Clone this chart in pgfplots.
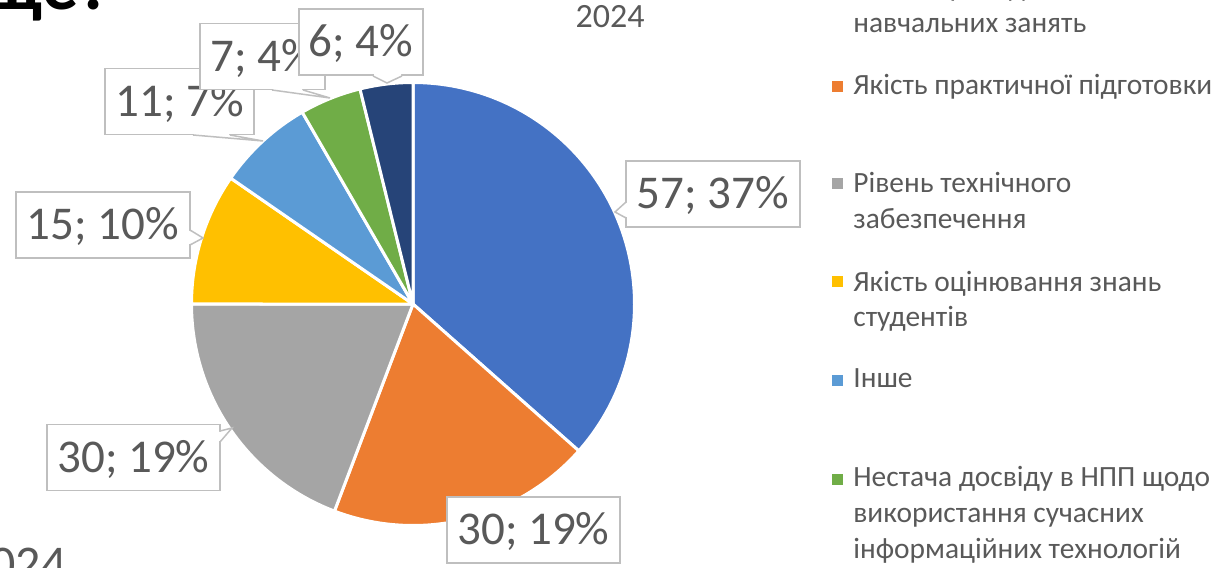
\documentclass[border=0pt]{standalone}
\usepackage{pgfplots}
\pgfplotsset{compat=1.18}
\usepackage{pgfplotstable}
\usepackage{fontspec}
\setmainfont{Carlito}
\definecolor{c1}{HTML}{4472C4}
\definecolor{c2}{HTML}{ED7D31}
\definecolor{c3}{HTML}{A5A5A5}
\definecolor{c4}{HTML}{FFC000}
\definecolor{c5}{HTML}{5B9BD5}
\definecolor{c6}{HTML}{70AD47}
\definecolor{c7}{HTML}{264478}
\definecolor{txt}{HTML}{595959}
\definecolor{bord}{HTML}{BFBFBF}

\pgfplotstableread{
value col
57 c1
30 c2
30 c3
15 c4
11 c5
7 c6
6 c7
}\piedata

\begin{document}
\begin{tikzpicture}
\useasboundingbox (0,0) rectangle (607pt,283.5pt);
\clip (0,0) rectangle (607pt,283.5pt);
\begin{axis}[hide axis, scale only axis, width=607pt, height=283.5pt,
  xmin=0, xmax=1214, ymin=0, ymax=567, y dir=reverse,
  at={(0,0)}, anchor=south west, clip=false]
\pgfplotstablegetrowsof{\piedata}
\pgfmathtruncatemacro{\nlast}{\pgfplotsretval-1}
\def\tot{0}
\pgfplotsforeachungrouped \i in {0,...,\nlast}{%
  \pgfplotstablegetelem{\i}{value}\of\piedata
  \pgfmathsetmacro{\tot}{\tot+\pgfplotsretval}}
\def\cum{0}
\pgfplotsforeachungrouped \i in {0,...,\nlast}{%
  \pgfplotstablegetelem{\i}{value}\of\piedata \let\sliceval\pgfplotsretval
  \pgfplotstablegetelem{\i}{col}\of\piedata \let\slicecol\pgfplotsretval
  \pgfmathsetmacro{\angA}{90-(\cum/\tot)*360}
  \pgfmathsetmacro{\cum}{\cum+\sliceval}
  \pgfmathsetmacro{\angB}{90-(\cum/\tot)*360}
  \edef\temp{\noexpand\addplot[fill=\slicecol, draw=white, line width=1.5pt, line join=round, domain=\angB:\angA, samples=90, forget plot] ({413+221.5*cos(x)},{304-221.5*sin(x)}) -- (axis cs:413,304) -- cycle;}
  \temp
}
\end{axis}

\begin{scope}[x=0.5pt, y=-0.5pt, shift={(0,283.5pt)},
  lab/.style={draw=bord, line width=0.75pt, fill=white, text=txt,
    font=\fontsize{23.5}{28}\selectfont, text height=14.8pt, text depth=0pt,
    minimum height=33pt, inner xsep=4pt, anchor=center},
  leg/.style={anchor=base west, text=txt, font=\fontsize{14.7}{17}\selectfont, inner sep=0pt},
  pt/.style={draw=bord, line width=0.75pt, line join=miter}]

% title fragments
\node[anchor=base east, font=\fontsize{36}{42}\selectfont\bfseries, text=black, inner sep=0pt] at (112,10) {ще?};
\node[anchor=base, font=\fontsize{17}{20}\selectfont, text=txt, inner sep=0pt] at (610,28) {2024};
\node[anchor=base east, font=\fontsize{25}{30}\selectfont, text=txt, inner sep=0pt] at (67,580) {2024};

% data labels (callouts)
\node[lab, minimum width=87pt] at (713,194) {57; 37\%};
\fill[white] (628,203) -- (626,203) -- (615,212) -- (626,217) -- (628,217) -- cycle;
\draw[pt] (626,202) -- (615,212) -- (626,218);

\node[lab, minimum width=86.5pt] at (533.5,530) {30; 19\%};

\node[lab, minimum width=86.5pt] at (133.5,457.5) {30; 19\%};
\fill[white] (218,432) -- (220,432) -- (232,428) -- (220,441) -- (218,441) -- cycle;
\draw[pt] (220,431) -- (232,428) -- (220,442);

\node[lab, minimum width=87pt] at (103,225) {15; 10\%};
\fill[white] (188,231) -- (190,231) -- (203,238) -- (190,244) -- (188,244) -- cycle;
\draw[pt] (190,230) -- (203,238) -- (190,245);

\node[lab, minimum width=74.5pt] at (179.5,101.5) {11; 7\%};
\fill[white] (194,133) -- (194,135) -- (263,141) -- (229,135) -- (229,133) -- cycle;
\draw[pt] (193,135) -- (263,141) -- (230,135);

\node[lab, minimum width=62.5pt] at (262.5,56.5) {7; 4\%};
\fill[white] (273,88) -- (273,90) -- (330,98) -- (302,90) -- (302,88) -- cycle;
\draw[pt] (272,90) -- (330,98) -- (303,90);

\node[lab, minimum width=62pt] at (361,42) {6; 4\%};
\fill[white] (374,74) -- (374,76) -- (387,83) -- (401,76) -- (401,74) -- cycle;
\draw[pt] (373,76) -- (387,83) -- (402,76);

% legend
\fill[c1] (831.5,-14.5) rectangle (842.5,-3.5);
\node[leg] at (853,-3) {Якість проведення};
\node[leg] at (853,33) {навчальних занять};
\fill[c2] (831.5,81.5) rectangle (842.5,92.5);
\node[leg] at (853,95) {Якість практичної підготовки};
\fill[c3] (831.5,178.5) rectangle (842.5,189.5);
\node[leg] at (853,193) {Рівень технічного};
\node[leg] at (853,229) {забезпечення};
\fill[c4] (831.5,276) rectangle (842.5,287);
\node[leg] at (853,292) {Якість оцінювання знань};
\node[leg] at (853,327) {студентів};
\fill[c5] (831.5,375.5) rectangle (842.5,386.5);
\node[leg] at (853,388) {Інше};
\fill[c6] (831.5,474.5) rectangle (842.5,485.5);
\node[leg] at (853,487) {Нестача досвіду в НПП щодо};
\node[leg] at (853,523) {використання сучасних};
\node[leg] at (853,558) {інформаційних технологій};
\end{scope}
\end{tikzpicture}
\end{document}
